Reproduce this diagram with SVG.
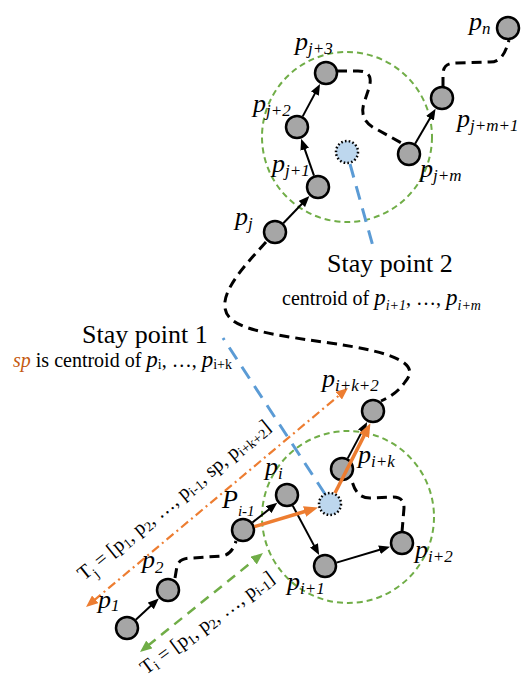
<svg xmlns="http://www.w3.org/2000/svg" width="522" height="685" viewBox="0 0 522 685" font-family="Liberation Serif, Times New Roman, DejaVu Serif, serif">
  <style>
    .node circle { fill: #a6a6a6; stroke: #000; stroke-width: 2.5; }
    .stay circle { fill: #bdd7ee; stroke: #000; stroke-width: 2.5; stroke-dasharray: 1.6 2.2; }
    text { font-family: 'Liberation Serif', 'Times New Roman', 'DejaVu Serif', serif; }
    .lbl { font-style: italic; font-size: 26px; fill: #000; }
    .sub { font-size: 17px; }
    .cap { fill: #000; }
    .step { stroke: #000; stroke-width: 2; fill: none; marker-end: url(#headBlack); }
    .move { stroke: #ed7d31; stroke-width: 3.5; fill: none; marker-end: url(#headOrange); }
    .trail { stroke: #000; stroke-width: 3; fill: none; stroke-dasharray: 10 6; }
    .zone { fill: none; stroke: #70ad47; stroke-width: 2; stroke-dasharray: 6 4; }
    .link { stroke: #5b9bd5; stroke-width: 3; fill: none; stroke-dasharray: 14 9; }
    .span-o { stroke: #ed7d31; stroke-width: 2.2; fill: none; stroke-dasharray: 9 4 2 4; marker-start: url(#headSpanO); marker-end: url(#headSpanO); }
    .span-g { stroke: #70ad47; stroke-width: 2.5; fill: none; stroke-dasharray: 10 7; marker-start: url(#headSpanG); marker-end: url(#headSpanG); }
  </style>
  <defs>
    <marker id="headBlack" markerUnits="userSpaceOnUse" markerWidth="11" markerHeight="9" refX="2" refY="4.5" orient="auto">
      <path d="M0,0 L11,4.5 L0,9 z" fill="#000"/>
    </marker>
    <marker id="headOrange" markerUnits="userSpaceOnUse" markerWidth="14" markerHeight="11" refX="2" refY="5.5" orient="auto">
      <path d="M0,0 L14,5.5 L0,11 z" fill="#ed7d31"/>
    </marker>
    <marker id="headSpanO" markerUnits="userSpaceOnUse" markerWidth="12" markerHeight="10" refX="2" refY="5" orient="auto-start-reverse">
      <path d="M0,0 L12,5 L0,10 z" fill="#ed7d31"/>
    </marker>
    <marker id="headSpanG" markerUnits="userSpaceOnUse" markerWidth="12" markerHeight="10" refX="2" refY="5" orient="auto-start-reverse">
      <path d="M0,0 L12,5 L0,10 z" fill="#70ad47"/>
    </marker>
  </defs>

  <!-- stay-point regions -->
  <g id="zone-2"><circle class="zone" cx="347" cy="137" r="85"/></g>
  <g id="zone-1"><circle class="zone" cx="348" cy="517" r="86"/></g>

  <g id="connectors">
    <!-- centroid leaders -->
    <line class="link" x1="350" y1="164" x2="374" y2="250"/>
    <line class="link" x1="325" y1="494" x2="223" y2="338"/>

    <!-- trajectory gaps (dashed) -->
    <path class="trail" d="M337,71 L358,71 C370,71 372,78 369,88 L364,103 C360,115 365,124 378,130 L405,145"/>
    <path class="trail" d="M443,87 L443,75 C443,66 447,63 457,63 L490,62 C500,62 505,55 509,40"/>
    <path class="trail" d="M266,242 C245,265 222,290 225,308 C228,328 260,333 330,343 C400,353 420,365 405,382 C398,392 390,397 381,401"/>
    <path class="trail" d="M175,578 L177,566 C179,560 184,558 192,558 L222,556 C230,555 234,548 236,541"/>
    <path class="trail" d="M402,532 L404,508 C404,500 400,497 393,497 L370,498 C360,498 355,492 352,481"/>

    <!-- trajectory spans -->
    <line class="span-o" x1="93.7" y1="600.6" x2="340.3" y2="394.4"/>
    <line class="span-g" x1="147.8" y1="645.7" x2="255.2" y2="559.3"/>

    <!-- consecutive GPS steps -->
    <line class="step" x1="283.3" y1="223.3" x2="303.2" y2="202.5"/>
    <line class="step" x1="314.0" y1="175.7" x2="304.1" y2="147.3"/>
    <line class="step" x1="302.7" y1="116.4" x2="315.8" y2="91.9"/>
    <line class="step" x1="415.1" y1="143.7" x2="431.0" y2="116.6"/>
    <line class="step" x1="135.8" y1="619.8" x2="152.2" y2="604.6"/>
    <line class="step" x1="252.4" y1="522.5" x2="270.2" y2="508.4"/>
    <line class="step" x1="292.7" y1="505.6" x2="314.9" y2="547.1"/>
    <line class="step" x1="336.5" y1="562.6" x2="381.4" y2="549.2"/>
    <line class="step" x1="347.7" y1="458.4" x2="362.9" y2="429.9"/>
  </g>

  <!-- points of the trajectory -->
  <g id="p-j" class="node"><circle cx="275" cy="232" r="11"/></g>
  <g id="p-j1" class="node"><circle cx="318" cy="187" r="11"/></g>
  <g id="p-j2" class="node"><circle cx="297" cy="127" r="11"/></g>
  <g id="p-j3" class="node"><circle cx="326" cy="73" r="11"/></g>
  <g id="p-jm" class="node"><circle cx="409" cy="154" r="11"/></g>
  <g id="p-jm1" class="node"><circle cx="442" cy="98" r="11"/></g>
  <g id="p-n" class="node"><circle cx="508" cy="28" r="11"/></g>
  <g id="stay-2" class="stay"><circle cx="347" cy="152" r="11"/></g>

  <g id="p-1" class="node"><circle cx="127" cy="628" r="11"/></g>
  <g id="p-2" class="node"><circle cx="168" cy="590" r="11"/></g>
  <g id="p-i-1" class="node"><circle cx="243" cy="530" r="11"/></g>
  <g id="p-i" class="node"><circle cx="287" cy="495" r="11"/></g>
  <g id="p-i1" class="node"><circle cx="325" cy="566" r="11"/></g>
  <g id="p-i2" class="node"><circle cx="402" cy="543" r="11"/></g>
  <g id="p-ik" class="node"><circle cx="342" cy="469" r="11"/></g>
  <g id="p-ik2" class="node"><circle cx="373" cy="411" r="11"/></g>
  <g id="stay-1" class="stay"><circle cx="330" cy="504" r="11"/></g>

  <!-- path rewritten through the stay point -->
  <g id="rewrite">
    <line class="move" x1="254.5" y1="526.6" x2="306.5" y2="511.0"/>
    <line class="move" x1="335" y1="493" x2="365" y2="433.9"/>
  </g>

  <!-- point labels -->
  <g id="labels">
    <text class="lbl" x="469" y="30">p<tspan class="sub" dy="4">n</tspan></text>
    <text class="lbl" x="295" y="50">p<tspan class="sub" dy="4">j+3</tspan></text>
    <text class="lbl" x="253" y="112">p<tspan class="sub" dy="4">j+2</tspan></text>
    <text class="lbl" x="272" y="172">p<tspan class="sub" dy="4">j+1</tspan></text>
    <text class="lbl" x="235" y="225">p<tspan class="sub" dy="4">j</tspan></text>
    <text class="lbl" x="420" y="177">p<tspan class="sub" dy="4">j+m</tspan></text>
    <text class="lbl" x="457" y="127">p<tspan class="sub" dy="4">j+m+1</tspan></text>

    <text class="lbl" x="322" y="387">p<tspan class="sub" dy="4">i+k+2</tspan></text>
    <text class="lbl" x="358" y="463">p<tspan class="sub" dy="4">i+k</tspan></text>
    <text class="lbl" x="265" y="475">p<tspan class="sub" dy="4">i</tspan></text>
    <text class="lbl" x="222" y="508">P<tspan style="font-size:15px" dy="8">i-1</tspan></text>
    <text class="lbl" x="287" y="590">p<tspan class="sub" dy="4">i+1</tspan></text>
    <text class="lbl" x="415" y="558">p<tspan class="sub" dy="4">i+2</tspan></text>
    <text class="lbl" x="142" y="568">p<tspan class="sub" dy="5">2</tspan></text>
    <text class="lbl" x="98" y="608">p<tspan class="sub" dy="3">1</tspan></text>
  </g>

  <!-- captions -->
  <g id="caption-2">
    <text class="cap" x="327" y="272" font-size="26">Stay point 2</text>
    <text class="cap" x="282" y="305" font-size="20">centroid of <tspan font-style="italic" font-size="23">p</tspan><tspan font-style="italic" font-size="14" dy="5">i+1</tspan><tspan dy="-5">, …, </tspan><tspan font-style="italic" font-size="23">p</tspan><tspan font-style="italic" font-size="14" dy="5">i+m</tspan></text>
  </g>
  <g id="caption-1">
    <text class="cap" x="82" y="343" font-size="26">Stay point 1</text>
    <text class="cap" x="13" y="367" font-size="20"><tspan font-style="italic" fill="#c55a11">sp</tspan> is centroid of <tspan font-style="italic" font-size="23">p</tspan><tspan font-size="14" dy="2">i</tspan><tspan dy="-2">, …, </tspan><tspan font-style="italic" font-size="23">p</tspan><tspan font-size="14" dy="2">i+k</tspan></text>
  </g>

  <!-- trajectory definitions -->
  <g id="traj-j">
    <text class="cap" font-size="20" fill="#c55a11" transform="translate(84,581) rotate(-39)">T<tspan font-size="14" dy="6">j</tspan><tspan dy="-6"> = [p</tspan><tspan font-size="14" dy="3">1</tspan><tspan dy="-3">, p</tspan><tspan font-size="14" dy="3">2</tspan><tspan dy="-3">, …, p</tspan><tspan font-size="14" dy="3">i-1</tspan><tspan dy="-3">, sp, p</tspan><tspan font-size="14" dy="3">i+k+2</tspan><tspan dy="-3">]</tspan></text>
  </g>
  <g id="traj-i">
    <text class="cap" font-size="20" fill="#548235" transform="translate(146,675) rotate(-36)">T<tspan font-size="14" dy="3">i</tspan><tspan dy="-3"> = [p</tspan><tspan font-size="14" dy="3">1</tspan><tspan dy="-3">, p</tspan><tspan font-size="14" dy="3">2</tspan><tspan dy="-3">, …, p</tspan><tspan font-size="14" dy="3">i-1</tspan><tspan dy="-3">]</tspan></text>
  </g>
</svg>
